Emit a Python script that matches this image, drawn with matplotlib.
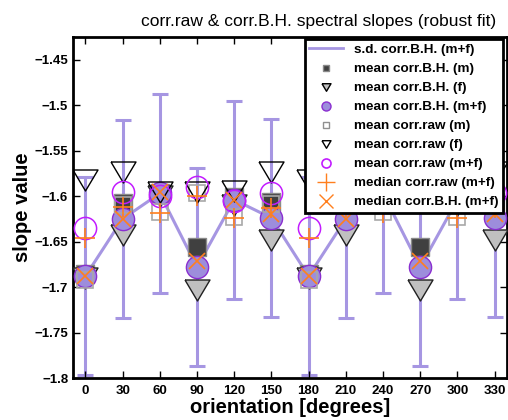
import matplotlib
matplotlib.use('Agg')
import matplotlib.pyplot as plt
from matplotlib.lines import Line2D
from matplotlib.ticker import FuncFormatter

# orientations (degrees)
orientation = [0, 30, 60, 90, 120, 150, 180, 210, 240, 270, 300, 330]

# corr.B.H. means
bh_mf = [-1.688, -1.625, -1.597, -1.678, -1.604, -1.624, -1.688, -1.625, -1.597, -1.678, -1.604, -1.624]
bh_sd = [0.109, 0.109, 0.109, 0.109, 0.109, 0.109, 0.109, 0.109, 0.109, 0.109, 0.109, 0.109]
bh_m = [-1.686, -1.608, -1.597, -1.656, -1.601, -1.606, -1.686, -1.608, -1.597, -1.656, -1.601, -1.606]
bh_f = [-1.690, -1.643, -1.600, -1.703, -1.610, -1.648, -1.690, -1.643, -1.600, -1.703, -1.610, -1.648]

# corr.raw means
raw_m = [-1.692, -1.610, -1.617, -1.597, -1.623, -1.609, -1.692, -1.610, -1.617, -1.597, -1.623, -1.609]
raw_f = [-1.582, -1.574, -1.596, -1.595, -1.594, -1.573, -1.582, -1.574, -1.596, -1.595, -1.594, -1.573]
raw_mf = [-1.635, -1.596, -1.600, -1.590, -1.605, -1.597, -1.635, -1.596, -1.600, -1.590, -1.605, -1.597]

# medians
med_raw = [-1.646, -1.612, -1.618, -1.600, -1.624, -1.613, -1.646, -1.612, -1.618, -1.600, -1.624, -1.613]
med_bh = [-1.688, -1.625, -1.596, -1.671, -1.604, -1.620, -1.688, -1.625, -1.596, -1.671, -1.604, -1.620]

labels = ['s.d. corr.B.H. (m+f)', 'mean corr.B.H. (m)', 'mean corr.B.H. (f)',
          'mean corr.B.H. (m+f)', 'mean corr.raw (m)', 'mean corr.raw (f)',
          'mean corr.raw (m+f)', 'median corr.raw (m+f)', 'median corr.B.H. (m+f)']

plt.rcParams['font.family'] = 'Liberation Sans'

# colours
c_sd = '#a696e2'
c_face = '#9d8ddc'
c_edge = '#8a2fd0'
c_open = '#c21cff'
c_orange = '#ff7f1e'

# triangle a bit wider than tall, like the original
tri = [(-1, 0.84), (1, 0.84), (0, -0.84), (-1, 0.84)]

fig = plt.figure(figsize=(5.08, 4.2), dpi=100)
ax = fig.add_axes([0.1437, 0.1, 0.8543, 0.8119])

ax.errorbar(orientation, bh_mf, yerr=bh_sd, color=c_sd, lw=2.2, capsize=5.5,
            capthick=2.2, zorder=1)
ax.plot(orientation, bh_m, ls='none', marker='s', ms=13, mfc='#404040', mec='#8a8a8a', mew=1, zorder=2)
ax.plot(orientation, bh_f, ls='none', marker=tri, ms=18, mfc='#c0c0c0', mec='#202020', mew=1, zorder=3)
ax.plot(orientation, bh_mf, ls='none', marker='o', ms=16, mfc=c_face, mec=c_edge, mew=1, zorder=4)
ax.plot(orientation, raw_m, ls='none', marker='s', ms=11.5, mfc='none', mec='#a8a8a8', mew=1.2, zorder=5)
ax.plot(orientation, raw_f, ls='none', marker=tri, ms=18, mfc='none', mec='black', mew=1, zorder=6)
ax.plot(orientation, raw_mf, ls='none', marker='o', ms=16, mfc='none', mec=c_open, mew=1.1, zorder=7)
ax.plot(orientation, med_raw, ls='none', marker='+', ms=14, mec=c_orange, mew=1.2, zorder=8)
ax.plot(orientation, med_bh, ls='none', marker='x', ms=11, mec=c_orange, mew=1.2, zorder=9)

ax.set_xlim(-10, 340)
ax.set_ylim(-1.8, -1.425)
ax.set_xticks(orientation)
ax.set_yticks([-1.8, -1.75, -1.7, -1.65, -1.6, -1.55, -1.5, -1.45])
ax.yaxis.set_major_formatter(FuncFormatter(lambda v, p: f'{v:g}'.replace('-', '\u2212')))
ax.tick_params(direction='in', length=5, width=1, top=True, right=True,
               labelsize=9.5, pad=3.5)
ax.tick_params(axis='x', pad=5)
for lab in ax.get_xticklabels() + ax.get_yticklabels():
    lab.set_fontweight('bold')
for s in ax.spines.values():
    s.set_linewidth(2)

ax.set_xlabel('orientation [degrees]', fontsize=14.5, fontweight='bold', labelpad=0.5)
ax.set_ylabel('slope value', fontsize=14.5, fontweight='bold', labelpad=2)
ax.set_title('corr.raw & corr.B.H. spectral slopes (robust fit)', fontsize=12.5, pad=8, x=0.566)

# legend with small markers as in the original
handles = [
    Line2D([], [], color=c_sd, lw=2),
    Line2D([], [], ls='none', marker='s', ms=5, mfc='#404040', mec='#8a8a8a'),
    Line2D([], [], ls='none', marker=tri, ms=6.5, mfc='#c0c0c0', mec='black', mew=1),
    Line2D([], [], ls='none', marker='o', ms=6.5, mfc=c_face, mec=c_edge),
    Line2D([], [], ls='none', marker='s', ms=5, mfc='none', mec='#909090'),
    Line2D([], [], ls='none', marker=tri, ms=6.5, mfc='none', mec='black', mew=1),
    Line2D([], [], ls='none', marker='o', ms=6.5, mfc='none', mec=c_open, mew=1.2),
    Line2D([], [], ls='none', marker='+', ms=13, mec=c_orange, mew=1),
    Line2D([], [], ls='none', marker='x', ms=10, mec=c_orange, mew=1),
]
leg = ax.legend(handles, labels, loc='upper right', bbox_to_anchor=(0.991, 0.994),
                borderaxespad=0, fancybox=False, framealpha=1, edgecolor='black',
                prop={'weight': 'bold', 'size': 9.7}, labelspacing=0.49,
                handlelength=2.5, handletextpad=0.8, borderpad=0.35)
leg.get_frame().set_linewidth(2)
leg.set_zorder(20)

fig.savefig('out.png', dpi=100)
